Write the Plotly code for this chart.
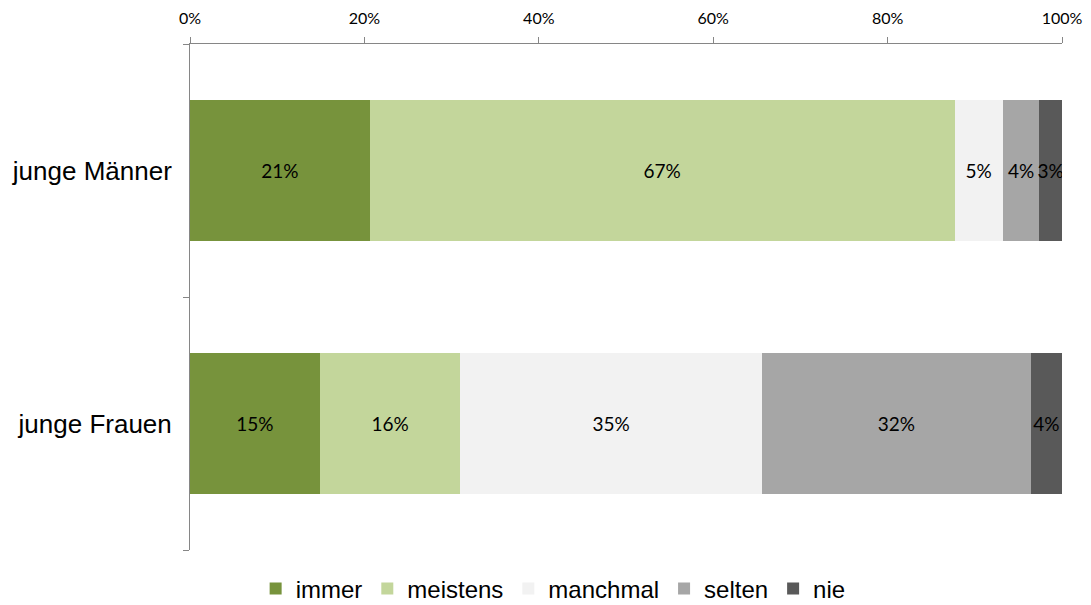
import plotly.graph_objects as go

categories = ["junge Männer", "junge Frauen"]
series_names = ["immer", "meistens", "manchmal", "selten", "nie"]
values = {
    "immer":    [20.6, 14.9],
    "meistens": [67.1, 16.1],
    "manchmal": [5.5, 34.6],
    "selten":   [4.2, 30.8],
    "nie":      [2.6, 3.6],
}
labels = {
    "immer":    ["21%", "15%"],
    "meistens": ["67%", "16%"],
    "manchmal": ["5%", "35%"],
    "selten":   ["4%", "32%"],
    "nie":      ["3%", "4%"],
}
colors = {
    "immer": "#77933C",
    "meistens": "#C3D69B",
    "manchmal": "#F2F2F2",
    "selten": "#A6A6A6",
    "nie": "#595959",
}
tick_vals = [0, 20, 40, 60, 80, 100]
tick_text = ["0%", "20%", "40%", "60%", "80%", "100%"]

cat_pos = list(range(len(categories)))
boundaries = [p - 0.5 for p in cat_pos] + [cat_pos[-1] + 0.5]

fig = go.Figure()
for name in series_names:
    fig.add_trace(go.Bar(
        y=cat_pos,
        x=values[name],
        name=name,
        orientation="h",
        marker=dict(color=colors[name], line=dict(width=0)),
        text=labels[name],
        textposition="inside",
        insidetextanchor="middle",
        textangle=0,
        textfont=dict(family="Lato, Open Sans, sans-serif", size=19, color="#000000"),
        hoverinfo="skip",
    ))

fig.update_layout(
    width=1091,
    height=605,
    barmode="stack",
    bargap=0.44,
    plot_bgcolor="white",
    paper_bgcolor="white",
    margin=dict(l=190, r=29, t=44, b=55, autoexpand=False),
    uniformtext=dict(minsize=19, mode="show"),
    legend=dict(
        orientation="h",
        xref="container",
        x=0.507,
        xanchor="center",
        yref="container",
        y=1 - 589 / 605,
        yanchor="middle",
        font=dict(family="Liberation Sans, Arial, sans-serif", size=24, color="#000000"),
        itemwidth=30,
        traceorder="normal",
    ),
    xaxis=dict(
        range=[0, 100],
        side="top",
        tickvals=tick_vals,
        ticktext=tick_text,
        showgrid=False,
        zeroline=False,
        showline=True,
        linecolor="#868686",
        linewidth=1,
        ticks="outside",
        ticklen=6,
        tickcolor="#868686",
        ticklabelstandoff=7,
        tickfont=dict(family="Liberation Sans Narrow, Lato, sans-serif", size=16, color="#000000"),
    ),
    yaxis=dict(
        range=[boundaries[-1], boundaries[0]],
        tickvals=cat_pos,
        ticktext=categories,
        showgrid=False,
        zeroline=False,
        showline=True,
        linecolor="#868686",
        linewidth=1,
        ticks="",
        ticklabelstandoff=12,
        tickfont=dict(family="Liberation Sans, Arial, sans-serif", size=26, color="#000000"),
        minor=dict(
            tickvals=boundaries,
            ticks="outside",
            ticklen=6,
            tickcolor="#868686",
            showgrid=False,
        ),
    ),
)

fig.write_html(
    "out.html",
    config={"displayModeBar": False},
    post_script="document.body.style.margin='0';",
)
